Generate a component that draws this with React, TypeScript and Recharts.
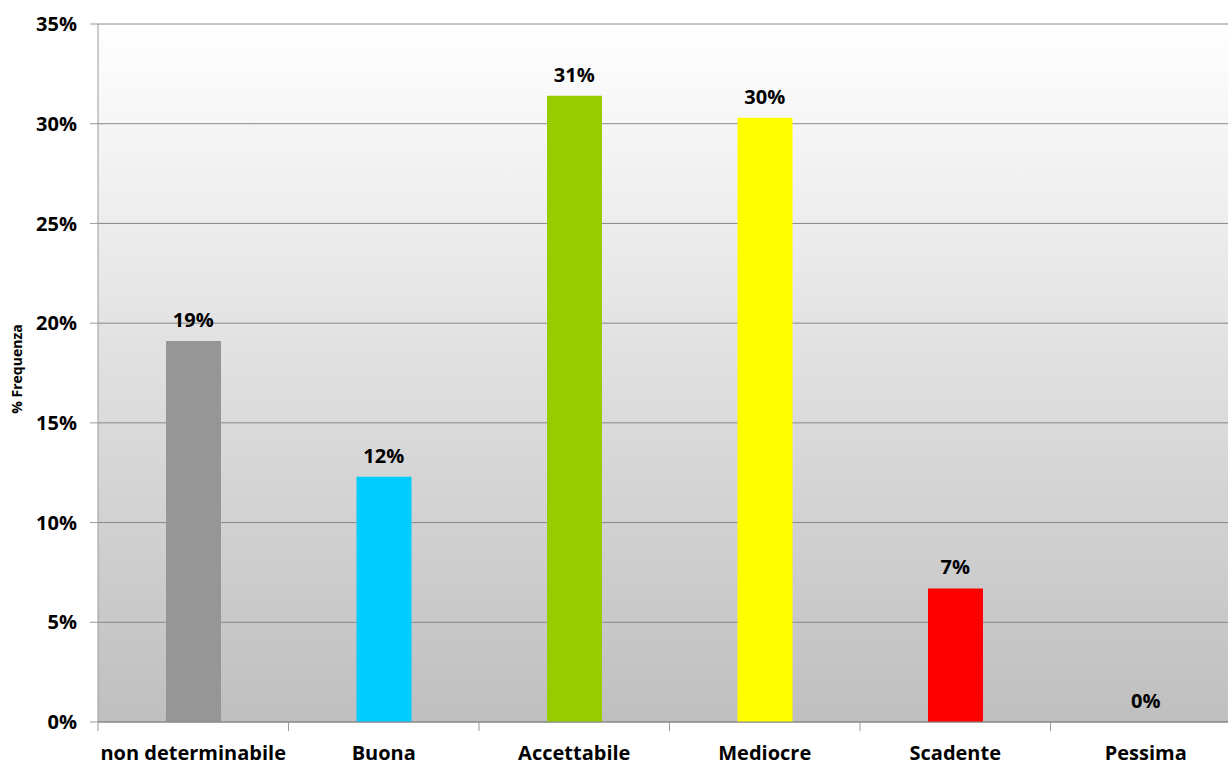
import { ComposedChart, Bar, Line, XAxis, YAxis, CartesianGrid, Cell, LabelList } from "recharts";

const categories = ["non determinabile", "Buona", "Accettabile", "Mediocre", "Scadente", "Pessima"];
const frequencies = [19.1, 12.3, 31.4, 30.3, 6.7, 0];
const barColors = ["#969696", "#00ccff", "#99cc00", "#ffff00", "#ff0000", "#c0c0c0"];
const yTicks = [0, 5, 10, 15, 20, 25, 30, 35];

const data = categories.map((name, i) => ({ name, value: frequencies[i] }));

const FONT = "'Open Sans', sans-serif";
const PLOT_LEFT = 98;
const CHART_W = 1241; // plot runs past the right edge of the picture, like the original
const BAND = (CHART_W - PLOT_LEFT) / categories.length;

function XTick(props: any) {
  const { x, y, payload } = props;
  const left = x - BAND / 2;
  return (
    <g>
      <line x1={left} y1={y - 8} x2={left} y2={y + 1} stroke="#9a9a9a" strokeWidth={1} />
      <text x={x} y={y + 30} textAnchor="middle" fontFamily={FONT} fontWeight={700} fontSize={20} fill="#000">
        {payload.value}
      </text>
    </g>
  );
}

export default function App() {
  return (
    <div style={{ position: "absolute", left: 0, top: 0, width: 1228, height: 762, overflow: "hidden", background: "#fff" }}>
      <ComposedChart width={CHART_W} height={762} data={data} margin={{ top: 24, right: 0, bottom: 0, left: 0 }} barCategoryGap={0}>
        <defs>
          <linearGradient id="bg" x1="0" y1="0" x2="0" y2="1">
            <stop offset="0%" stopColor="#ffffff" />
            <stop offset="100%" stopColor="#bfbfbf" />
          </linearGradient>
        </defs>
        <CartesianGrid vertical={false} stroke="#888888" fill="url(#bg)" fillOpacity={1} />
        <XAxis
          dataKey="name"
          height={40}
          axisLine={{ stroke: "#888888" }}
          tickLine={false}
          interval={0}
          tick={<XTick />}
        />
        <YAxis
          width={PLOT_LEFT}
          domain={[0, 35]}
          ticks={yTicks}
          interval={0}
          tickFormatter={(v: number) => `${v}%`}
          axisLine={{ stroke: "#9a9a9a" }}
          tickLine={{ stroke: "#9a9a9a" }}
          tickSize={8}
          tickMargin={13}
          tick={{ fontFamily: FONT, fontWeight: 700, fontSize: 20, fill: "#000" }}
          label={{
            value: "% Frequenza",
            angle: -90,
            position: "insideLeft",
            offset: 17,
            dy: -4,
            style: { fontFamily: FONT, fontWeight: 700, fontSize: 14, fill: "#000", textAnchor: "middle" },
          }}
        />
        <Bar dataKey="value" barSize={55} isAnimationActive={false}>
          {data.map((d, i) => (
            <Cell key={d.name} fill={barColors[i]} />
          ))}
        </Bar>
        <Line
          dataKey="value"
          stroke="none"
          dot={false}
          activeDot={false}
          legendType="none"
          isAnimationActive={false}
        >
          <LabelList
            dataKey="value"
            position="top"
            offset={14}
            formatter={(v: any) => `${Math.round(Number(v))}%`}
            style={{ fontFamily: FONT, fontWeight: 700, fontSize: 20, fill: "#000" }}
          />
        </Line>
      </ComposedChart>
    </div>
  );
}
